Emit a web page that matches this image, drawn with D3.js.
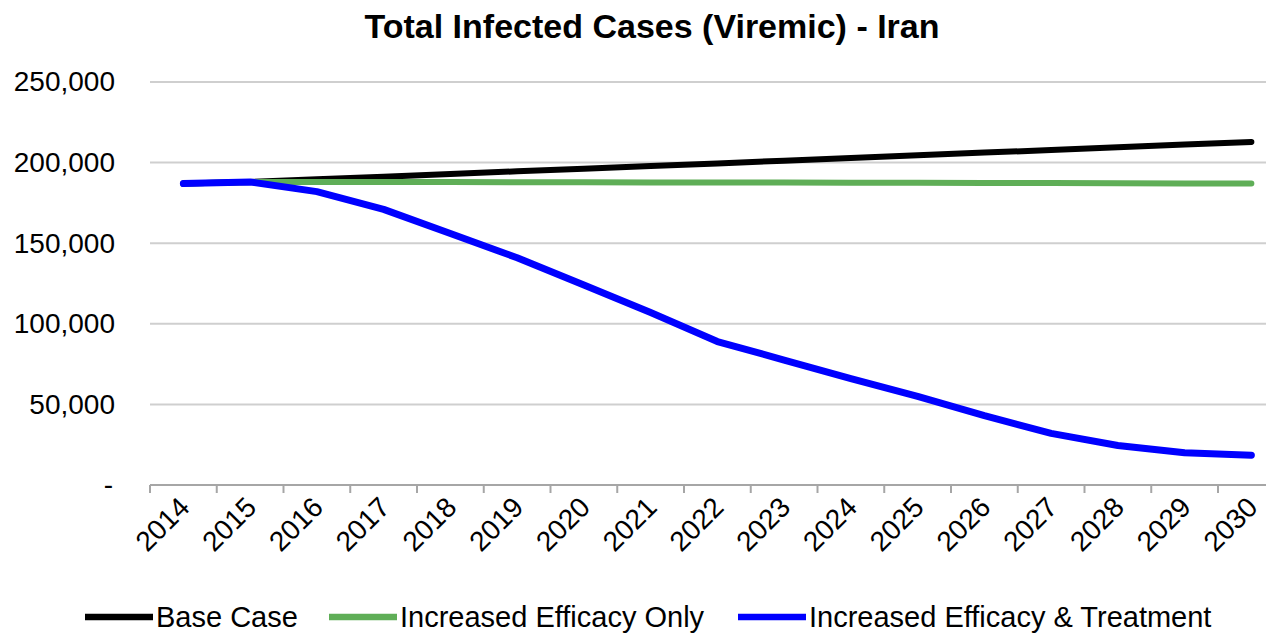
<!DOCTYPE html>
<html>
<head>
<meta charset="utf-8">
<script src="https://cdn.jsdelivr.net/npm/d3@7"></script>
<style>
  html, body { margin: 0; padding: 0; background: #fff; }
  svg { display: block; font-family: "Liberation Sans", Arial, sans-serif; }
</style>
</head>
<body>
<svg id="chart" width="1266" height="635"></svg>
<script>
// Projection years and scenario values (total viremic infections)
const years = ["2014","2015","2016","2017","2018","2019","2020","2021","2022",
               "2023","2024","2025","2026","2027","2028","2029","2030"];
const baseCase = [187000, 188000, 189600, 191200, 192900, 194600, 196200, 197900, 199500,
                  201200, 202800, 204500, 206200, 207800, 209500, 211200, 212800];
const efficacyOnly = [187000, 188000, 188000, 187900, 187900, 187800, 187800, 187700, 187700,
                      187600, 187500, 187500, 187400, 187300, 187200, 187100, 187000];
const efficacyTreatment = [187000, 188000, 182000, 171000, 156000, 141000, 124000, 107000, 89000,
                           77500, 66000, 55000, 43000, 32000, 24500, 20000, 18500];
const yTicks = [0, 50000, 100000, 150000, 200000, 250000];
const seriesNames = ["Base Case", "Increased Efficacy Only", "Increased Efficacy & Treatment"];
const seriesColors = ["#000000", "#5fae57", "#0000ff"];

const series = [
  { name: seriesNames[0], values: baseCase, color: seriesColors[0], width: 6 },
  { name: seriesNames[1], values: efficacyOnly, color: seriesColors[1], width: 6 },
  { name: seriesNames[2], values: efficacyTreatment, color: seriesColors[2], width: 7 }
];

const svg = d3.select("#chart");
const W = 1266;
const plot = { left: 150, top: 82, bottom: 485, step: 66.75 };
plot.right = plot.left + plot.step * years.length;

const x = d3.scaleBand().domain(years).range([plot.left, plot.right]).padding(0);
const y = d3.scaleLinear().domain([0, 250000]).range([plot.bottom, plot.top]);
const cx = d => x(d) + x.bandwidth() / 2;

// Title
svg.append("text")
  .attr("x", 652).attr("y", 38)
  .attr("text-anchor", "middle")
  .attr("font-size", 34).attr("font-weight", "bold")
  .attr("fill", "#000")
  .text("Total Infected Cases (Viremic) - Iran");

// Horizontal gridlines
svg.append("g")
  .selectAll("line")
  .data(yTicks.filter(t => t > 0))
  .join("line")
  .attr("x1", plot.left).attr("x2", W)
  .attr("y1", d => y(d)).attr("y2", d => y(d))
  .attr("stroke", "#cfcfcf").attr("stroke-width", 2);

// Y axis labels
const yAxis = d3.axisLeft(y)
  .tickValues(yTicks)
  .tickSize(0)
  .tickPadding(0)
  .tickFormat(d => d === 0 ? "-" : d3.format(",")(d));
const gy = svg.append("g").attr("transform", "translate(115,0)").call(yAxis);
gy.select(".domain").remove();
gy.selectAll("text").attr("font-size", 28).attr("fill", "#000")
  .attr("font-family", "'Liberation Sans', Arial, sans-serif");
gy.selectAll(".tick").filter(d => d === 0).select("text").attr("dx", -2);

// X axis: baseline with ticks between categories
const gx = svg.append("g");
gx.append("line")
  .attr("x1", plot.left).attr("x2", W)
  .attr("y1", plot.bottom).attr("y2", plot.bottom)
  .attr("stroke", "#a6a6a6").attr("stroke-width", 2);
gx.selectAll("line.tick")
  .data(years)
  .join("line")
  .attr("class", "tick")
  .attr("x1", d => x(d)).attr("x2", d => x(d))
  .attr("y1", plot.bottom).attr("y2", plot.bottom + 8)
  .attr("stroke", "#a6a6a6").attr("stroke-width", 2);
gx.selectAll("text")
  .data(years)
  .join("text")
  .attr("transform", d => `translate(${cx(d) + 1},${plot.bottom + 17}) rotate(-45)`)
  .attr("text-anchor", "end")
  .attr("dy", "0.35em")
  .attr("font-size", 28)
  .attr("fill", "#000")
  .text(d => d);

// Scenario lines
const line = d3.line()
  .x((d, i) => cx(years[i]))
  .y(d => y(d))
  .curve(d3.curveLinear);

svg.append("g")
  .selectAll("path")
  .data(series)
  .join("path")
  .attr("d", s => line(s.values))
  .attr("fill", "none")
  .attr("stroke", s => s.color)
  .attr("stroke-width", s => s.width)
  .attr("stroke-linecap", "round")
  .attr("stroke-linejoin", "round");

// Legend
const legendX = [85, 329, 738];
const legend = svg.append("g")
  .selectAll("g")
  .data(series)
  .join("g")
  .attr("transform", (s, i) => `translate(${legendX[i]},617)`);
legend.append("line")
  .attr("x1", 0).attr("x2", 68)
  .attr("y1", 0).attr("y2", 0)
  .attr("stroke", s => s.color)
  .attr("stroke-width", 6.5);
legend.append("text")
  .attr("x", 71).attr("y", 0)
  .attr("dy", "0.35em")
  .attr("font-size", 29)
  .attr("fill", "#000")
  .text(s => s.name);
</script>
</body>
</html>
